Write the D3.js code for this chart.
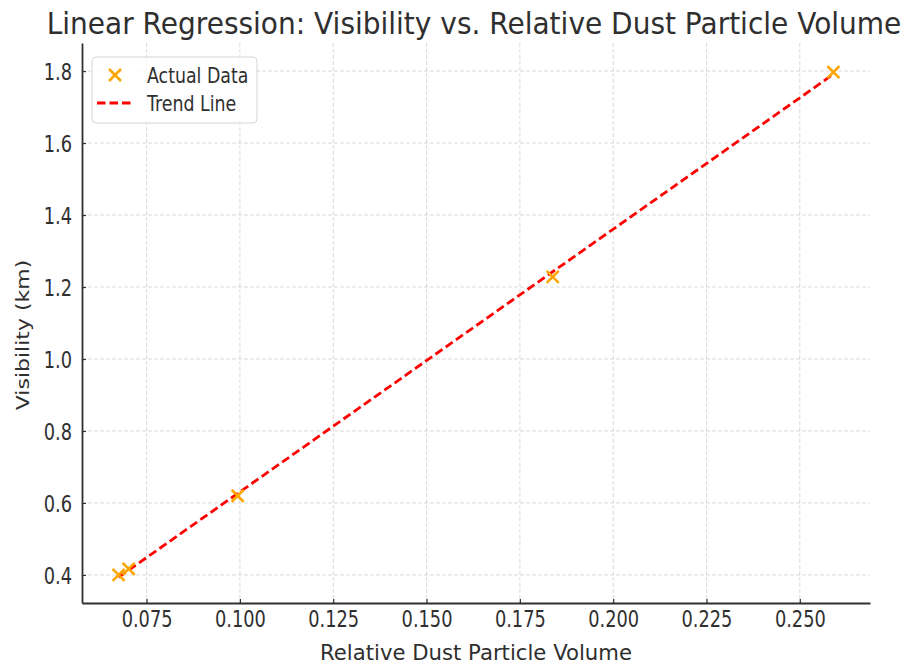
<!DOCTYPE html>
<html>
<head>
<meta charset="utf-8">
<script src="https://cdn.jsdelivr.net/npm/d3@7"></script>
<style>
  html, body { margin: 0; padding: 0; background: #fff; }
  svg { display: block; font-family: "DejaVu Sans", sans-serif; }
</style>
</head>
<body>
<svg id="chart" width="909" height="667"></svg>
<script>
// ---- data ----
const dustVolume = [0.0675, 0.0702, 0.0994, 0.1838, 0.2590];
const visibility = [0.400, 0.417, 0.620, 1.228, 1.797];
const trendVisibility = [0.3935, 0.4132, 0.6263, 1.2424, 1.7914];
const xTicks = [0.075, 0.100, 0.125, 0.150, 0.175, 0.200, 0.225, 0.250];
const yTicks = [0.4, 0.6, 0.8, 1.0, 1.2, 1.4, 1.6, 1.8];
const titleText = "Linear Regression: Visibility vs. Relative Dust Particle Volume";
const xLabelText = "Relative Dust Particle Volume";
const yLabelText = "Visibility (km)";
const legendLabels = ["Actual Data", "Trend Line"];

// ---- layout ----
const sx = 0.79; // horizontal text squash
const plot = { left: 82, right: 870, top: 43, bottom: 603 };
const textColor = "#2f2f2f";

const svg = d3.select("#chart");

const x = d3.scaleLinear().domain([0.0577, 0.2688]).range([plot.left, plot.right]);
const y = d3.scaleLinear().domain([0.322, 1.878]).range([plot.bottom, plot.top]);

// grid
const grid = svg.append("g");
grid.selectAll("line.vx").data(xTicks).join("line")
  .attr("x1", d => x(d)).attr("x2", d => x(d))
  .attr("y1", plot.top).attr("y2", plot.bottom)
  .attr("stroke", "#b0b0b0").attr("stroke-opacity", 0.6)
  .attr("stroke-width", 0.8).attr("stroke-dasharray", "4,2");
grid.selectAll("line.hy").data(yTicks).join("line")
  .attr("x1", plot.left).attr("x2", plot.right)
  .attr("y1", d => y(d)).attr("y2", d => y(d))
  .attr("stroke", "#b0b0b0").attr("stroke-opacity", 0.6)
  .attr("stroke-width", 0.8).attr("stroke-dasharray", "4,2");

// axes
const xAxis = d3.axisBottom(x).tickValues(xTicks).tickFormat(d3.format(".3f"))
  .tickSizeInner(-4).tickSizeOuter(0).tickPadding(10);
const gx = svg.append("g").attr("transform", `translate(0,${plot.bottom})`).call(xAxis);
gx.select(".domain").attr("stroke", textColor).attr("stroke-width", 1.8);
gx.selectAll(".tick line").attr("stroke", textColor).attr("stroke-width", 1.2);
gx.selectAll(".tick text")
  .attr("fill", textColor).attr("font-size", 22.5)
  .attr("font-family", "DejaVu Sans, sans-serif")
  .attr("y", 8).attr("dy", "0.71em")
  .attr("transform", `scale(${sx},1)`);

const yAxis = d3.axisLeft(y).tickValues(yTicks).tickFormat(d3.format(".1f"))
  .tickSizeInner(-4).tickSizeOuter(0);
const gy = svg.append("g").attr("transform", `translate(${plot.left},0)`).call(yAxis);
gy.select(".domain").attr("stroke", textColor).attr("stroke-width", 1.8);
gy.selectAll(".tick line").attr("stroke", textColor).attr("stroke-width", 1.2);
gy.selectAll(".tick text")
  .attr("fill", textColor).attr("font-size", 22.5)
  .attr("font-family", "DejaVu Sans, sans-serif")
  .attr("x", -10 / sx).attr("dy", "0.36em")
  .attr("transform", `scale(${sx},1)`);

// trend line
const trendData = dustVolume.map((d, i) => [d, trendVisibility[i]]);
svg.append("path")
  .datum(trendData)
  .attr("d", d3.line().x(d => x(d[0])).y(d => y(d[1])))
  .attr("fill", "none").attr("stroke", "#ff0000")
  .attr("stroke-width", 2.8).attr("stroke-dasharray", "8.5,4");

// scatter X markers
const ms = 6;
const pts = svg.append("g").selectAll("g").data(dustVolume.map((d, i) => [d, visibility[i]])).join("g")
  .attr("transform", d => `translate(${x(d[0])},${y(d[1])})`);
pts.append("path")
  .attr("d", `M${-ms},${-ms}L${ms},${ms}M${-ms},${ms}L${ms},${-ms}`)
  .attr("stroke", "#ffa500").attr("stroke-width", 2.6).attr("fill", "none");

// helper: squash a centred text to a target width
function fitText(sel, cx, cy, width) {
  const natural = sel.node().getComputedTextLength();
  sel.attr("transform", `translate(${cx},${cy}) scale(${width / natural},1)`);
}

// title
const title = svg.append("text")
  .attr("text-anchor", "middle")
  .attr("font-size", 31).attr("fill", textColor)
  .text(titleText);
fitText(title, 474, 34, 855);

// x label
const xl = svg.append("text")
  .attr("text-anchor", "middle")
  .attr("font-size", 21.5).attr("fill", textColor)
  .text(xLabelText);
fitText(xl, 476, 660, 312);

// y label
svg.append("text")
  .attr("transform", `translate(29,${(plot.top + plot.bottom) / 2 + 12}) scale(${sx},1) rotate(-90)`)
  .attr("text-anchor", "middle")
  .attr("font-size", 22).attr("fill", textColor)
  .text(yLabelText);

// legend
const lg = svg.append("g");
lg.append("rect")
  .attr("x", 92).attr("y", 57).attr("width", 165).attr("height", 66)
  .attr("rx", 4).attr("fill", "#fff").attr("fill-opacity", 0.8)
  .attr("stroke", "#d5d5d5").attr("stroke-width", 1);
lg.append("path")
  .attr("d", `M${115 - ms},${75 - ms}L${115 + ms},${75 + ms}M${115 - ms},${75 + ms}L${115 + ms},${75 - ms}`)
  .attr("stroke", "#ffa500").attr("stroke-width", 2.6).attr("fill", "none");
lg.append("line")
  .attr("x1", 97).attr("x2", 134).attr("y1", 103).attr("y2", 103)
  .attr("stroke", "#ff0000").attr("stroke-width", 2.8).attr("stroke-dasharray", "8.5,4");
legendLabels.forEach((t, i) => {
  lg.append("text")
    .attr("transform", `translate(147,${75 + i * 28}) scale(${sx},1)`)
    .attr("dy", "0.36em")
    .attr("font-size", 22).attr("fill", textColor)
    .text(t);
});
</script>
</body>
</html>
